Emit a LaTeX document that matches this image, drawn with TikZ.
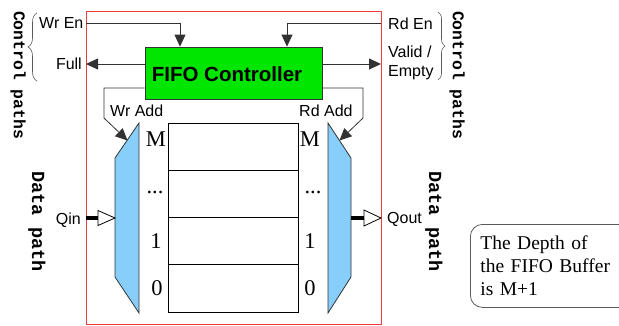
\documentclass[tikz,border=0pt]{standalone}
\usepackage{fontspec}
\setmainfont{Liberation Serif}
\setsansfont{Liberation Sans}
\newfontfamily\monob{Liberation Mono}
\usetikzlibrary{arrows.meta,decorations.pathreplacing}
\definecolor{ctrlgreen}{RGB}{0,230,0}
\definecolor{muxblue}{RGB}{135,206,250}
\definecolor{redline}{RGB}{240,60,60}
\definecolor{wirec}{RGB}{50,50,50}
\begin{document}
\begin{tikzpicture}[x=1pt,y=-1pt,
  lbl/.style={font=\sffamily\fontsize{16}{18}\selectfont, inner sep=0pt},
  num/.style={font=\fontsize{22.5}{24}\selectfont, inner sep=0pt, anchor=base},
  sidetxt/.style={font=\monob\bfseries\fontsize{16.4}{18}\selectfont, rotate=-90, inner sep=0pt},
  datatxt/.style={font=\monob\bfseries\fontsize{18.5}{20}\selectfont, rotate=-90, inner sep=0pt},
  wire/.style={draw=wirec, line width=0.8pt},
  arr/.style={wire, -{Triangle[length=12pt,width=11pt]}},
  cell/.style={draw=black, line width=0.8pt, minimum width=130pt, minimum height=47.25pt, inner sep=0pt},
  mux/.style={draw=wirec, fill=muxblue, line width=0.8pt},
  brc/.style={draw=wirec!80, line width=0.6pt, decorate, decoration={brace, amplitude=#1}},
  opentri/.style={draw=black, fill=white, line width=0.8pt},
  thick bus/.style={draw=black, line width=3.5pt},
]
\useasboundingbox (0,0) rectangle (619,325);

% outer FIFO frame
\node[draw=redline, line width=1pt, minimum width=295pt, minimum height=313pt, inner sep=0pt] (fifo) at (233.5,167.5) {};

% controller
\node[draw=wirec, fill=ctrlgreen, line width=0.8pt, minimum width=177pt, minimum height=52pt, inner sep=0pt] (ctrl) at (233.5,73) {};
\node[font=\sffamily\bfseries\fontsize{20.5}{22}\selectfont, inner sep=0pt] (ctrltxt) at (227,74.5) {FIFO Controller};

% memory cells
\node[cell] (m3) at (233,146.6) {};
\node[cell] (m2) at (233,193.9) {};
\node[cell] (m1) at (233,241.1) {};
\node[cell] (m0) at (233,288.4) {};

% row labels
\node[num] (lM) at (156,146.7) {M};
\node[num] (ld) at (155,193.5) {...};
\node[num] (l1) at (156,248) {1};
\node[num] (l0) at (157,295) {0};
\node[num] (rM) at (310,146.7) {M};
\node[num] (rd) at (313,193.5) {...};
\node[num] (r1) at (310,248) {1};
\node[num] (r0) at (310,295) {0};

% multiplexers
\coordinate (wmA) at (115,158);
\coordinate (wmB) at (139,123);
\coordinate (wmC) at (139,313);
\coordinate (wmD) at (115,277);
\draw[mux] (wmA) -- (wmB) -- (wmC) -- (wmD) -- cycle;
\coordinate (rmA) at (328,123);
\coordinate (rmB) at (351,158);
\coordinate (rmC) at (351,277);
\coordinate (rmD) at (328,313);
\draw[mux] (rmA) -- (rmB) -- (rmC) -- (rmD) -- cycle;

% control connectors
\coordinate (wren) at (86,23);
\coordinate (rden) at (381,23);
\draw[arr] (wren) -| ([xshift=-53.5pt]ctrl.north);
\draw[arr] (rden) -| ([xshift=53.5pt]ctrl.north);
\coordinate (fullend) at (86,64);
\coordinate (validend) at (381,64);
\draw[arr] (ctrl.west |- fullend) -- (fullend);
\draw[arr] (ctrl.east |- validend) -- (validend);

% address connectors
\coordinate (wrb1) at (104,88);
\coordinate (wrb2) at (104,118);
\coordinate (wrtip) at (127.5,140.5);
\draw[arr] (ctrl.west |- wrb1) -- (wrb1) -- (wrb2) -- (wrtip);
\coordinate (rdb1) at (363,88);
\coordinate (rdb2) at (363,118);
\coordinate (rdtip) at (339.5,140.5);
\draw[arr] (ctrl.east |- rdb1) -- (rdb1) -- (rdb2) -- (rdtip);

% data in / out
\coordinate (qinA) at (86,218);
\coordinate (qinB) at (98,218);
\coordinate (qinT) at (115,218);
\draw[thick bus] (qinA) -- (qinB);
\draw[opentri] ([yshift=7.5pt]qinB) -- (qinT) -- ([yshift=-7.5pt]qinB) -- cycle;
\coordinate (qoA) at (351,218);
\coordinate (qoB) at (364,218);
\coordinate (qoT) at (381,218);
\draw[thick bus] (qoA) -- (qoB);
\draw[opentri] ([yshift=8pt]qoB) -- (qoT) -- ([yshift=-8pt]qoB) -- cycle;

% labels
\node[lbl, anchor=base west] (twren) at (39,28.3) {Wr En};
\node[lbl, anchor=base east] (tfull) at (82,69) {Full};
\node[lbl, anchor=base west] (trden) at (388,29) {Rd En};
\node[lbl, anchor=base west] (tvalid) at (388,57.5) {Valid /};
\node[lbl, anchor=base west] (tempty) at (388,76) {Empty};
\node[lbl, anchor=base west] (twradd) at (110,116.5) {Wr Add};
\node[lbl, anchor=base west] (trdadd) at (299,116.5) {Rd Add};
\node[lbl, anchor=base east] (tqin) at (81,224) {Qin};
\node[lbl, anchor=base west] (tqout) at (387,223.5) {Qout};

% side captions
\node[sidetxt] (lctl) at (18,75) {Control paths};
\node[sidetxt] (rctl) at (457,75) {Control paths};
\node[datatxt] (ldat) at (37,221.5) {Data path};
\node[datatxt] (rdat) at (434,221.5) {Data path};

% braces
\coordinate (lbA) at (37,81);
\coordinate (lbB) at (37,13);
\draw[brc=9pt] (lbA) -- (lbB);
\coordinate (rbA) at (438,12);
\coordinate (rbB) at (438,80);
\draw[brc=7pt] (rbA) -- (rbB);

% note
\node[draw=wirec!80, line width=0.8pt, rounded corners=12pt, anchor=north west,
      minimum height=83pt, text width=150pt, inner xsep=10pt, align=left,
      font=\fontsize{19.5}{23}\selectfont] (note) at (470,224)
      {The Depth of\\the FIFO Buffer\\is M+1};
\end{tikzpicture}
\end{document}
